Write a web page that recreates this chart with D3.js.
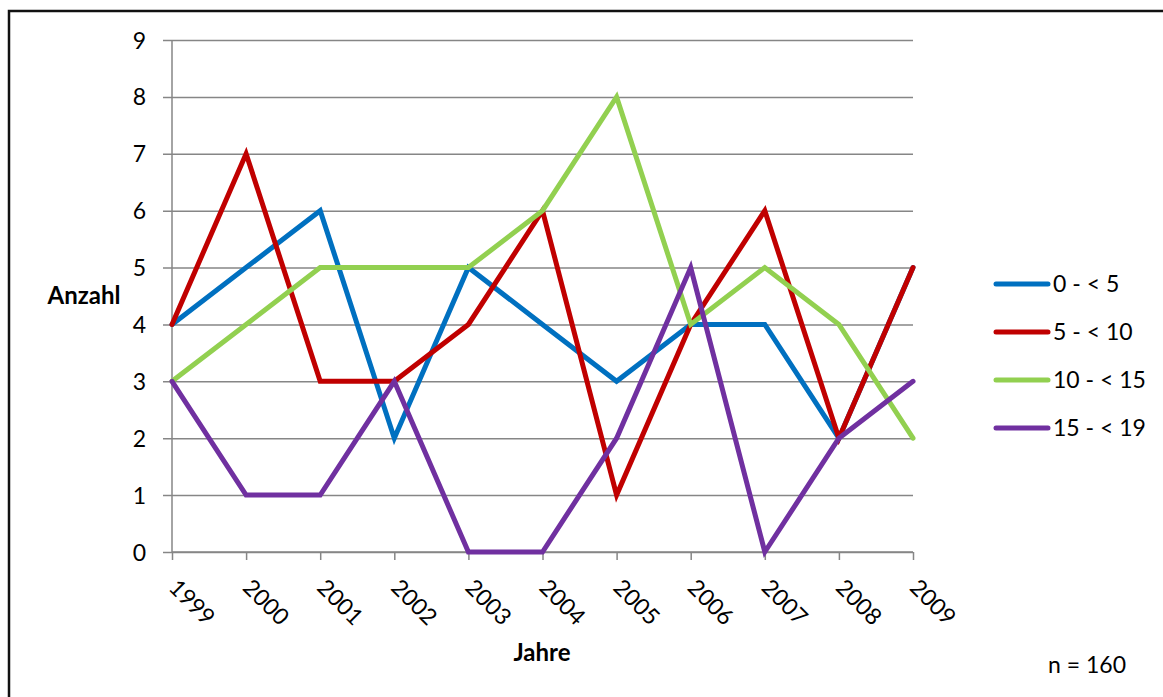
<!DOCTYPE html>
<html>
<head>
<meta charset="utf-8">
<script src="https://cdn.jsdelivr.net/npm/d3@7"></script>
<style>
  html, body { margin: 0; padding: 0; background: #fff; }
  svg { display: block; font-family: Lato, "Open Sans", sans-serif; }
</style>
</head>
<body>
<svg id="chart" width="1163" height="697"></svg>
<script>
const years = ["1999","2000","2001","2002","2003","2004","2005","2006","2007","2008","2009"];
const seriesNames = ["0 - < 5", "5 - < 10", "10 - < 15", "15 - < 19"];
const seriesColors = ["#0070C0", "#C00000", "#92D050", "#7030A0"];
const s0to5   = [4, 5, 6, 2, 5, 4, 3, 4, 4, 2, 5];
const s5to10  = [4, 7, 3, 3, 4, 6, 1, 4, 6, 2, 5];
const s10to15 = [3, 4, 5, 5, 5, 6, 8, 4, 5, 4, 2];
const s15to19 = [3, 1, 1, 3, 0, 0, 2, 5, 0, 2, 3];
const yTicks = [0, 1, 2, 3, 4, 5, 6, 7, 8, 9];
const seriesValues = [s0to5, s5to10, s10to15, s15to19];

const svg = d3.select("#chart");
const plotL = 172, plotR = 913, plotT = 40, plotB = 552;
const grid = "#868686";
const fs = 23;

// outer border
svg.append("path")
  .attr("d", `M9,700 L9,11 L1165,11`)
  .attr("fill", "none").attr("stroke", "#111").attr("stroke-width", 2.5);

const x = d3.scalePoint().domain(years).range([plotL, plotR]);
const y = d3.scaleLinear().domain([0, 9]).range([plotB, plotT]);

// y gridlines + ticks
const yAxis = d3.axisLeft(y).tickValues(yTicks).tickSize(-(plotR - plotL)).tickSizeOuter(0).tickPadding(0).tickFormat(d3.format("d"));
const gy = svg.append("g").attr("transform", `translate(${plotL},0)`).call(yAxis);
gy.select(".domain").remove();
gy.selectAll(".tick line").attr("x1", -9).attr("stroke", grid).attr("stroke-width", 1.5);
gy.selectAll(".tick text").attr("x", -26).attr("dy", "0.35em")
  .attr("font-size", fs).attr("fill", "#000").attr("font-family", "Lato, sans-serif");

// y axis line
svg.append("line").attr("x1", plotL).attr("x2", plotL).attr("y1", plotT).attr("y2", plotB)
  .attr("stroke", grid).attr("stroke-width", 1.5);

// x axis
const xAxis = d3.axisBottom(x).tickSize(8).tickSizeOuter(0);
const gx = svg.append("g").attr("transform", `translate(0,${plotB})`).call(xAxis);
gx.select(".domain").attr("stroke", grid).attr("stroke-width", 1.5).attr("d", `M${plotL},0H${plotR}`);
gx.selectAll(".tick line").attr("stroke", grid).attr("stroke-width", 1.5);
gx.selectAll(".tick text")
  .attr("font-size", fs).attr("fill", "#000").attr("font-family", "Lato, sans-serif")
  .attr("text-anchor", "start").attr("dy", null).attr("y", 0)
  .attr("transform", "translate(-5,37) rotate(45)");

// lines
const line = d3.line().x((d, i) => x(years[i])).y(d => y(d));
seriesValues.forEach((vals, k) => {
  svg.append("path").datum(vals)
    .attr("d", line)
    .attr("fill", "none")
    .attr("stroke", seriesColors[k])
    .attr("stroke-width", 5)
    .attr("stroke-linejoin", "miter")
    .attr("stroke-linecap", "round");
});

// axis titles
svg.append("text").attr("x", 84).attr("y", 296).attr("dy", "0.35em")
  .attr("text-anchor", "middle").attr("font-weight", "bold").attr("font-size", fs + 1).text("Anzahl");
svg.append("text").attr("x", 542).attr("y", 653).attr("dy", "0.35em")
  .attr("text-anchor", "middle").attr("font-weight", "bold").attr("font-size", fs + 1).text("Jahre");
svg.append("text").attr("x", 1087).attr("y", 665).attr("dy", "0.35em")
  .attr("text-anchor", "middle").attr("font-size", fs).text("n = 160");

// legend
const legY = [284, 332, 380, 428];
seriesNames.forEach((name, k) => {
  const g = svg.append("g").attr("transform", `translate(0,${legY[k]})`);
  g.append("line").attr("x1", 996).attr("x2", 1048).attr("y1", 0).attr("y2", 0)
    .attr("stroke", seriesColors[k]).attr("stroke-width", 5).attr("stroke-linecap", "round");
  g.append("text").attr("x", 1053).attr("y", 0).attr("dy", "0.35em")
    .attr("font-size", fs).text(name);
});
</script>
</body>
</html>
